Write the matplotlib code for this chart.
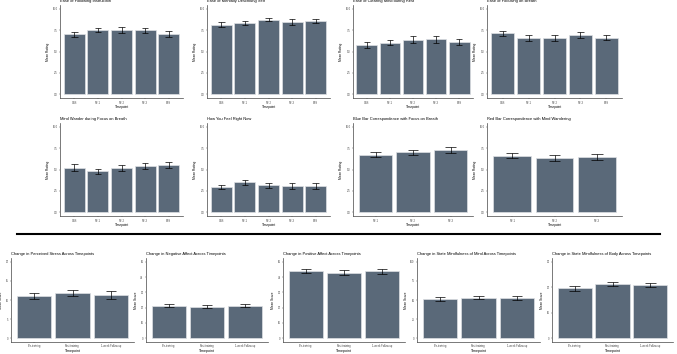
import numpy as np
import matplotlib
matplotlib.use("Agg")
import matplotlib.pyplot as plt

plt.rcParams['font.family'] = ['Liberation Sans', 'DejaVu Sans']

# ---- top section: self-report ratings (0-10) ----
top_titles = [
    'Ease of Following Instruction', 'Ease of Mentally Describing Self',
    'Ease of Clearing Mind during Rest', 'Ease of Focusing on Breath',
    'Mind Wander during Focus on Breath', 'How You Feel Right Now',
    'Blue Bar Correspondence with Focus on Breath',
    'Red Bar Correspondence with Mind Wandering',
]
tp5 = ['CBS', 'NF-1', 'NF-2', 'NF-3', 'FBS']
tp3 = ['NF-1', 'NF-2', 'NF-3']
top_labels = [tp5, tp5, tp5, tp5, tp5, tp5, tp3, tp3]
top_means = [
    [7.02, 7.49, 7.49, 7.49, 7.06],
    [8.16, 8.35, 8.75, 8.50, 8.60],
    [5.80, 6.04, 6.40, 6.43, 6.10],
    [7.14, 6.60, 6.60, 6.90, 6.63],
    [5.20, 4.80, 5.18, 5.37, 5.57],
    [2.98, 3.50, 3.14, 3.10, 3.10],
    [6.75, 7.02, 7.30],
    [6.63, 6.35, 6.50],
]
top_errs = [
    [0.30, 0.25, 0.35, 0.30, 0.35],
    [0.30, 0.25, 0.20, 0.35, 0.25],
    [0.37, 0.33, 0.37, 0.39, 0.35],
    [0.30, 0.31, 0.35, 0.37, 0.31],
    [0.39, 0.31, 0.35, 0.35, 0.37],
    [0.25, 0.31, 0.33, 0.35, 0.37],
    [0.25, 0.27, 0.35],
    [0.29, 0.37, 0.35],
]

# ---- bottom section: questionnaire scores ----
bot_titles = [
    'Change in Perceived Stress Across Timepoints',
    'Change in Negative Affect Across Timepoints',
    'Change in Positive Affect Across Timepoints',
    'Change in State Mindfulness of Mind Across Timepoints',
    'Change in State Mindfulness of Body Across Timepoints',
]
bot_labels = ['Pre-training', 'Post-training', '1-week Follow-up']
bot_means = [
    [11.1, 11.86, 11.34],
    [21.3, 20.65, 21.1],
    [43.7, 42.8, 43.7],
    [51.7, 53.0, 52.2],
    [19.6, 21.4, 20.9],
]
bot_errs = [
    [0.82, 0.78, 1.0],
    [1.2, 1.2, 1.0],
    [1.3, 1.6, 1.8],
    [2.4, 2.2, 2.8],
    [1.04, 0.85, 0.9],
]
bot_ticks = [
    [0, 5, 10, 15, 20],
    [0, 10, 20, 30, 40, 50],
    [0, 10, 20, 30, 40, 50],
    [0, 25, 50, 75, 100],
    [0, 10, 20, 30],
]

W, H = 677, 354
BAR = '#5a6979'
fig = plt.figure(figsize=(W / 100, H / 100), dpi=100)


def px_axes(x0, y0, x1, y1):
    # pixel box (top-left origin) -> figure axes
    return fig.add_axes([x0 / W, 1 - y1 / H, (x1 - x0) / W, (y1 - y0) / H])


def draw(ax, labels, means, errs, ticks, tick_fmt, title, ylabel, xlabsize=2.3):
    n = len(labels)
    x = np.arange(1, n + 1)
    ax.bar(x, means, width=0.9, color=BAR, edgecolor='#dde0e4', linewidth=0.5, zorder=2)
    lo = np.array(means) - np.array(errs)
    hi = np.array(means) + np.array(errs)
    ax.vlines(x, lo, hi, color='black', linewidth=0.5, zorder=3)
    ax.hlines(lo, x - 0.14, x + 0.14, color='black', linewidth=0.5, zorder=3)
    ax.hlines(hi, x - 0.14, x + 0.14, color='black', linewidth=0.5, zorder=3)
    ax.set_xlim(0.4, n + 0.6)
    span = ticks[-1] - ticks[0]
    ax.set_ylim(ticks[0] - 0.05 * span, ticks[-1] + 0.05 * span)
    ax.set_yticks(ticks)
    ax.set_yticklabels([tick_fmt(t) for t in ticks])
    ax.set_xticks(x)
    ax.set_xticklabels(labels)
    for s in ['top', 'right']:
        ax.spines[s].set_visible(False)
    for s in ['left', 'bottom']:
        ax.spines[s].set_linewidth(0.5)
        ax.spines[s].set_color('#444444')
    ax.tick_params(labelsize=1.9, length=1.0, width=0.3, pad=0.8, colors='#444444')
    ax.set_title(title, loc='left', fontsize=2.9, pad=2)
    ax.set_xlabel('Timepoint', fontsize=xlabsize, labelpad=0.5)
    ax.set_ylabel(ylabel, fontsize=2.3, labelpad=1.5)


top_cols = [(60, 183), (207, 330), (353, 473), (487, 622)]
top_rows = [(4.75, 98.25), (122.75, 216.25)]
ticks10 = [0, 2.5, 5, 7.5, 10]
for i in range(8):
    r, c = divmod(i, 4)
    x0, x1 = top_cols[c]
    y0, y1 = top_rows[r]
    ax = px_axes(x0, y0, x1, y1)
    draw(ax, top_labels[i], top_means[i], top_errs[i], ticks10,
         lambda t: f'{t:.1f}', top_titles[i], 'Mean Rating')

# separator line
fig.add_artist(plt.Line2D([17 / W, 660 / W], [1 - 234 / H, 1 - 234 / H],
                          color='black', linewidth=1.5))

bot_cols = [(11, 134), (146, 268), (283, 405), (417, 540), (552, 673)]
for i in range(5):
    x0, x1 = bot_cols[i]
    ax = px_axes(x0, 258, x1, 342)
    draw(ax, bot_labels, bot_means[i], bot_errs[i], bot_ticks[i],
         lambda t: f'{t:g}', bot_titles[i], 'Mean Score', xlabsize=2.6)

fig.savefig('out.png', dpi=100)
